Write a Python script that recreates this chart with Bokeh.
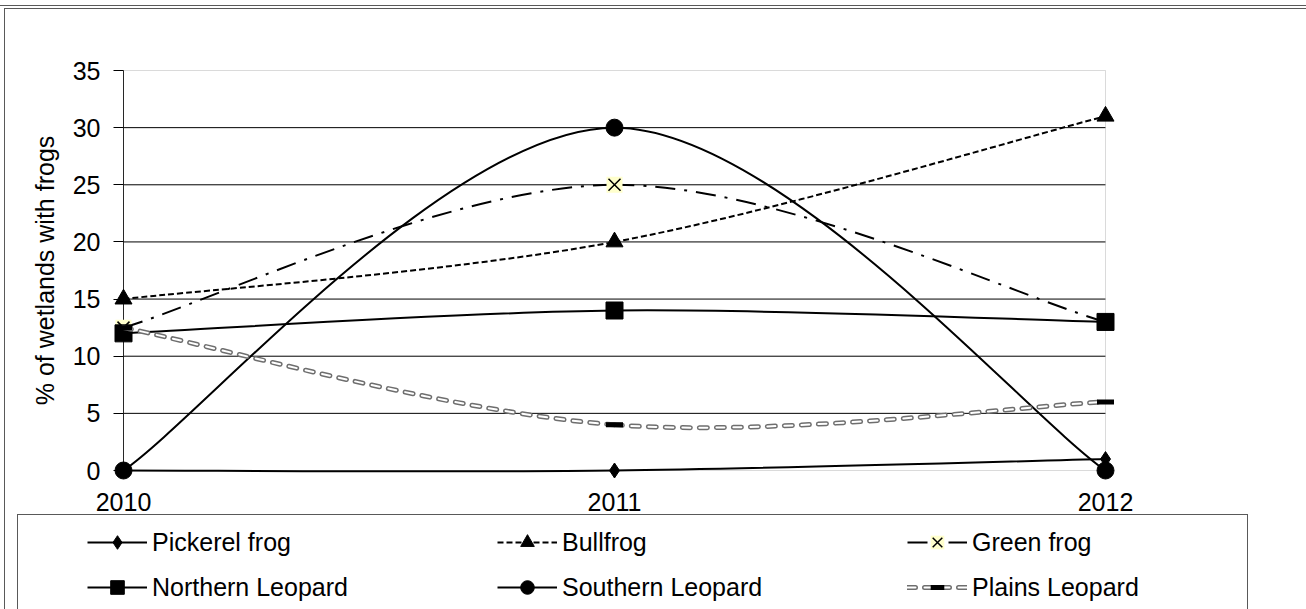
import numpy as np
from bokeh.plotting import figure
from bokeh.layouts import column
from bokeh.models import (Range1d, FixedTicker, BoxAnnotation, Legend, LegendItem,
                          ColumnDataSource)
from bokeh.embed import file_html
from bokeh.resources import INLINE

# ---------------- data ----------------
years = [2010, 2011, 2012]
year_labels = ["2010", "2011", "2012"]
y_ticks = [0, 5, 10, 15, 20, 25, 30, 35]

pickerel_frog = [0, 0, 1]
bullfrog = [15, 20, 31]
green_frog = [12.5, 25, 13]
northern_leopard = [12, 14, 13]
southern_leopard = [0, 30, 0]
plains_leopard = [12.5, 4, 6]

names = ["Pickerel frog", "Bullfrog", "Green frog",
         "Northern Leopard", "Southern Leopard", "Plains Leopard"]

# ---------------- layout ----------------
FONT = "Liberation Sans"
W, H = 1306, 609
H1 = 515                                 # height of the chart part
H2 = H - H1                              # height of the legend part
PL, PR, PT, PB = 123, 1105, 70, 470     # plot area (px)
M = 10                                   # frame margin so markers are not clipped
XMIN, XMAX = years[0], years[-1]
YMIN, YMAX = y_ticks[0], y_ticks[-1]
xs_px = (PR - PL) / (XMAX - XMIN)
ys_px = (PB - PT) / (YMAX - YMIN)
BORDER = "#595959"


def smooth(xv, yv):
    """Excel-like smoothed line: cubic Bezier control points from the data."""
    x = np.asarray(xv, float)
    y = np.asarray(yv, float)
    n = len(x)
    d = dict(x0=[], y0=[], x1=[], y1=[], cx0=[], cy0=[], cx1=[], cy1=[])
    for i in range(n - 1):
        ip = max(i - 1, 0)
        inx = min(i + 2, n - 1)
        d["x0"].append(x[i]); d["y0"].append(y[i])
        d["x1"].append(x[i + 1]); d["y1"].append(y[i + 1])
        d["cx0"].append(x[i] + (x[i + 1] - x[ip]) / 6)
        d["cy0"].append(y[i] + (y[i + 1] - y[ip]) / 6)
        d["cx1"].append(x[i + 1] - (x[inx] - x[i]) / 6)
        d["cy1"].append(y[i + 1] - (y[inx] - y[i]) / 6)
    return ColumnDataSource(d)


p = figure(width=W, height=H1,
           x_range=Range1d(XMIN - M / xs_px, XMAX + M / xs_px),
           y_range=Range1d(YMIN - M / ys_px, YMAX + M / ys_px),
           min_border_left=PL - M, min_border_right=W - PR - M,
           min_border_top=PT - M, min_border_bottom=H1 - PB - M,
           output_backend="svg", toolbar_location=None,
           background_fill_color="white", border_fill_alpha=0)
p.outline_line_color = None
p.xgrid.visible = False
p.ygrid.visible = False

# gridlines
inner = y_ticks[1:-1]
p.segment(x0=[XMIN] * len(inner), x1=[XMAX] * len(inner), y0=inner, y1=inner,
          line_color="black", line_width=1, level="underlay")
# plot area border
p.add_layout(BoxAnnotation(left=XMIN, right=XMAX, bottom=YMIN, top=YMAX,
                           fill_alpha=0, line_color="#868686", line_width=1,
                           level="underlay"))
# vertical axis line
p.segment(x0=[XMIN], x1=[XMIN], y0=[YMIN], y1=[YMAX],
          line_color="black", line_width=1, level="underlay")

# axes
ya = p.yaxis[0]
ya.ticker = FixedTicker(ticks=y_ticks)
ya.axis_line_color = None
ya.major_tick_in = M
ya.major_tick_out = 0
ya.major_tick_line_color = "black"
ya.minor_tick_line_color = None
ya.major_label_standoff = 13
ya.major_label_text_font = FONT
ya.major_label_text_font_size = "25px"
ya.major_label_text_color = "black"
ya.axis_label = "% of wetlands with frogs"
ya.axis_label_text_font = FONT
ya.axis_label_text_font_size = "25px"
ya.axis_label_text_font_style = "normal"
ya.axis_label_text_color = "black"
ya.axis_label_standoff = 11

xa = p.xaxis[0]
xa.ticker = FixedTicker(ticks=years)
xa.major_label_overrides = {y: lab for y, lab in zip(years, year_labels)}
xa.axis_line_color = None
xa.major_tick_line_color = None
xa.minor_tick_line_color = None
xa.major_label_standoff = 6
xa.major_label_text_font = FONT
xa.major_label_text_font_size = "25px"
xa.major_label_text_color = "black"

# ---------------- series styles ----------------
bz = dict(x0="x0", y0="y0", x1="x1", y1="y1", cx0="cx0", cy0="cy0", cx1="cx1", cy1="cy1")
line_styles = [
    [dict(line_color="black", line_width=2)],
    [dict(line_color="black", line_width=2, line_dash="6 3")],
    [dict(line_color="black", line_width=2, line_dash="20 9 3 9")],
    [dict(line_color="black", line_width=2)],
    [dict(line_color="black", line_width=2)],
    [dict(line_color="#6e6e6e", line_width=5, line_dash="8 9", line_cap="round"),
     dict(line_color="white", line_width=2, line_dash="8 9", line_cap="round")],
]
marker_styles = [
    [dict(marker="diamond", size=15, fill_color="black", line_color="black")],
    [dict(marker="triangle", size=17, fill_color="black", line_color="black")],
    [dict(marker="square", size=16, fill_color="#FFFFCC", line_color=None),
     dict(marker="x", size=17, line_color="black", line_width=1.5)],
    [dict(marker="square", size=17, fill_color="black", line_color="black")],
    [dict(marker="circle", size=17, fill_color="black", line_color="black")],
    [dict(marker="dash", size=17, line_color="black", line_width=5)],
]
series = [pickerel_frog, bullfrog, green_frog, northern_leopard,
          southern_leopard, plains_leopard]

for vals, ls, ms in zip(series, line_styles, marker_styles):
    src = smooth(years, vals)
    for st in ls:
        p.bezier(source=src, **bz, **st)
    for st in ms:
        p.scatter(years, vals, **st)

# ---------------- legend part ----------------
# a second canvas whose renderers hold the same series (outside its view),
# used only to draw the legend keys
p2 = figure(width=W, height=H2, x_range=Range1d(0, 1), y_range=Range1d(0, 1),
            min_border_left=0, min_border_right=0, min_border_top=0, min_border_bottom=0,
            x_axis_location=None, y_axis_location=None,
            output_backend="svg", toolbar_location=None,
            background_fill_alpha=0, border_fill_alpha=0)
p2.outline_line_color = None
p2.xgrid.visible = False
p2.ygrid.visible = False
for fig in (p, p2):
    if "frame_align" in fig.properties():
        fig.frame_align = False

items = []
for name, vals, ls, ms in zip(names, series, line_styles, marker_styles):
    src = smooth(years, vals)
    rs = []
    for st in ls:
        rs.append(p2.bezier(source=src, **bz, **st))
    for st in ms:
        rs.append(p2.scatter(years, vals, **st))
    items.append(LegendItem(label=name, renderers=rs))

LEG_TOP = 525 - H1          # top of first legend row (local px)
LEG_H = 2 * 34 + 11
legend = Legend(items=items, orientation="horizontal", ncols=3,
                location=(87, H2 - LEG_TOP - LEG_H),
                padding=0, margin=0, border_line_color=None,
                background_fill_alpha=0,
                glyph_width=60, glyph_height=34, label_height=34,
                label_width=334, label_standoff=5, spacing=11,
                label_text_font=FONT, label_text_font_size="25px",
                label_text_color="black")
p2.add_layout(legend)

root = column(p, p2, spacing=0)
# chart-area frame lines and legend box (CSS lines behind the transparent canvases)
g = f"linear-gradient({BORDER}, {BORDER})"
root.styles = {
    "background-color": "white",
    "background-image": ", ".join([g] * 6),
    "background-position": "0px 5px, 4px 8px, 4px 8px, 17px 514px, 17px 514px, 1247px 514px",
    "background-size": "100% 1px, 100% 1px, 1px 100%, 1231px 1px, 1px 200px, 1px 200px",
    "background-repeat": "no-repeat",
}

open("out.html", "w").write(file_html(root, INLINE))
